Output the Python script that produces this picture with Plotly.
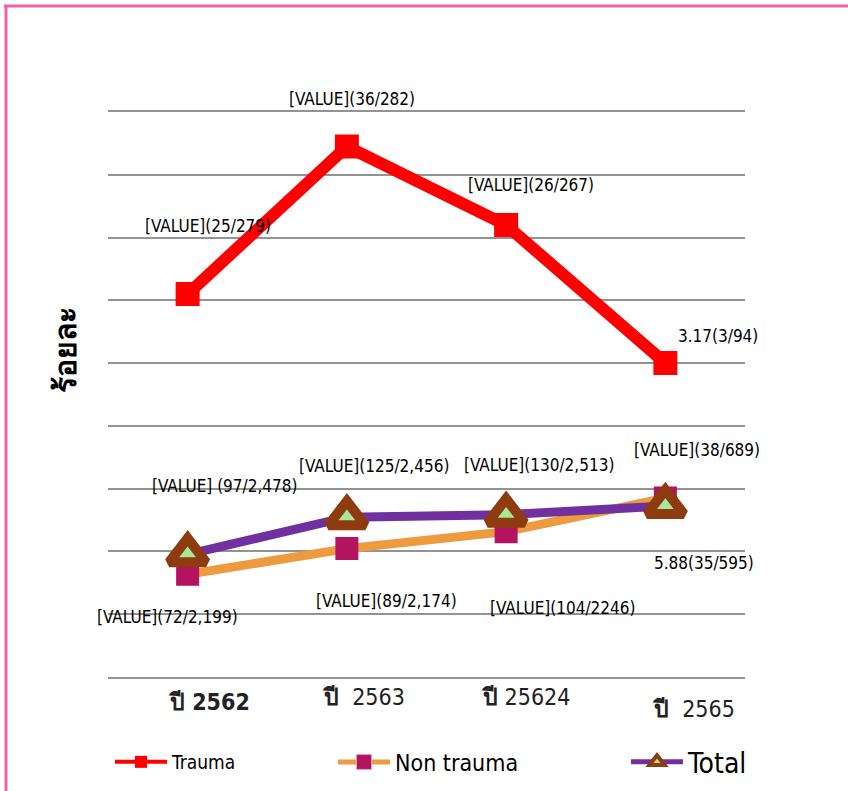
import plotly.graph_objects as go

# ---- data ----
categories = ["2562", "2563", "2564", "2565"]
tick_labels = ["<b>ปี 2562</b>", "<b>ปี</b>  2563", "<b>ปี</b> 25624", "<b>ปี</b>  2565"]
trauma = [12.2, 16.9, 14.4, 10.0]
non_trauma = [3.27, 4.09, 4.63, 5.7]
total = [3.91, 5.09, 5.17, 5.45]
trauma_labels = ["[VALUE](25/279)", "[VALUE](36/282)", "[VALUE](26/267)", "3.17(3/94)"]
non_trauma_labels = ["[VALUE](72/2,199)", "[VALUE](89/2,174)", "[VALUE](104/2246)", "5.88(35/595)"]
total_labels = ["[VALUE] (97/2,478)", "[VALUE](125/2,456)", "[VALUE](130/2,513)", "[VALUE](38/689)"]
y_title = "ร้อยละ"

# ---- styles ----
FONT = "DejaVu Sans Condensed, Roboto, sans-serif"
RED = "#FF0000"
ORANGE = "#EE9A3E"
MAGENTA = "#B3135F"
PURPLE = "#7030A0"
BROWN = "#8E3B10"
GREEN = "#A6E894"
GRID = "#939393"

# label offsets (pixels) per point
trauma_off = [(20, -68), (5, -48), (25, -40), (53, -27)]
non_trauma_off = [(-20, 43), (40, 52), (57, 76), (39, 65)]
total_off = [(37, -68), (27, -51), (33, -50), (32, -56)]
tick_off = [(21, -25), (17, -20), (19, -20), (28, -32)]

fig = go.Figure()

fig.add_trace(go.Scatter(
    x=categories, y=non_trauma, mode="lines+markers", showlegend=False,
    line=dict(color=ORANGE, width=9),
    marker=dict(symbol="square", size=19, color=MAGENTA, line=dict(color=MAGENTA, width=4)),
))
fig.add_trace(go.Scatter(
    x=categories, y=total, mode="lines+markers", showlegend=False,
    line=dict(color=PURPLE, width=9),
    marker=dict(symbol="triangle-up", size=32, color=GREEN, line=dict(color=BROWN, width=10)),
))
fig.add_trace(go.Scatter(
    x=categories, y=trauma, mode="lines+markers", showlegend=False,
    line=dict(color=RED, width=12),
    marker=dict(symbol="square", size=20, color=RED, line=dict(color=RED, width=4)),
))

# legend entries
fig.add_trace(go.Scatter(
    x=[None], y=[None], mode="lines+markers", name="Trauma", legend="legend",
    line=dict(color=RED, width=4),
    marker=dict(symbol="square", size=12, color=RED),
))
fig.add_trace(go.Scatter(
    x=[None], y=[None], mode="lines+markers", name="Non trauma", legend="legend2",
    line=dict(color=ORANGE, width=5),
    marker=dict(symbol="square", size=15, color=MAGENTA, line=dict(color="#E8A0C8", width=1)),
))
fig.add_trace(go.Scatter(
    x=[None], y=[None], mode="lines+markers", name="Total", legend="legend3",
    line=dict(color=PURPLE, width=5),
    marker=dict(symbol="triangle-up", size=13, color=GREEN, line=dict(color=BROWN, width=4)),
))

annotations = []
for series, labels, offs in [(trauma, trauma_labels, trauma_off),
                             (non_trauma, non_trauma_labels, non_trauma_off),
                             (total, total_labels, total_off)]:
    for i, (v, t, (dx, dy)) in enumerate(zip(series, labels, offs)):
        annotations.append(dict(x=i, y=v, xref="x", yref="y", text=t, showarrow=False,
                                xanchor="center", yanchor="middle",
                                xshift=dx, yshift=-dy, font=dict(family=FONT, size=17, color="#000")))

for i, (t, (dx, dy)) in enumerate(zip(tick_labels, tick_off)):
    annotations.append(dict(x=i, y=0, xref="x", yref="y", text=t, showarrow=False,
                            xanchor="center", yanchor="middle",
                            xshift=dx, yshift=dy, font=dict(family=FONT, size=23, color="#222")))

annotations.append(dict(x=(65 - 108) / 637, y=(677 - 350) / 565, xref="paper", yref="paper",
                        text="<b>" + y_title + "</b>", xanchor="center", yanchor="middle",
                        showarrow=False, textangle=-90, font=dict(family=FONT, size=30, color="#000")))

LEG_Y = (791 - 762) / 791
fig.update_layout(
    width=848, height=791,
    margin=dict(l=108, r=103, t=112, b=114, autoexpand=False),
    paper_bgcolor="white", plot_bgcolor="white",
    font=dict(family=FONT, color="#000"),
    xaxis=dict(type="category", range=[-0.5, 3.5], showgrid=False, showticklabels=False,
               zeroline=False, showline=True, mirror=True, linecolor=GRID, linewidth=2, ticks=""),
    yaxis=dict(range=[0, 18], dtick=2, showgrid=True, gridcolor=GRID, gridwidth=2,
               showticklabels=False, zeroline=False, showline=False, ticks=""),
    legend=dict(orientation="h", xref="container", yref="container", x=110 / 848, y=LEG_Y,
                xanchor="left", yanchor="middle", itemwidth=52,
                font=dict(family=FONT, size=19), bgcolor="rgba(0,0,0,0)"),
    legend2=dict(orientation="h", xref="container", yref="container", x=333 / 848, y=LEG_Y,
                 xanchor="left", yanchor="middle", itemwidth=52,
                 font=dict(family=FONT, size=23), bgcolor="rgba(0,0,0,0)"),
    legend3=dict(orientation="h", xref="container", yref="container", x=626 / 848, y=LEG_Y,
                 xanchor="left", yanchor="middle", itemwidth=52,
                 font=dict(family=FONT, size=28), bgcolor="rgba(0,0,0,0)"),
    annotations=annotations,
    shapes=[
        dict(type="line", xref="paper", yref="paper", x0=(4 - 108) / 637, x1=(848 - 108) / 637,
             y0=(677 - 6) / 565, y1=(677 - 6) / 565, line=dict(color="#F062AA", width=3)),
        dict(type="line", xref="paper", yref="paper", x0=(6 - 108) / 637, x1=(6 - 108) / 637,
             y0=(677 - 5) / 565, y1=(677 - 795) / 565, line=dict(color="#F062AA", width=3)),
    ],
)

fig.write_html("out.html")
